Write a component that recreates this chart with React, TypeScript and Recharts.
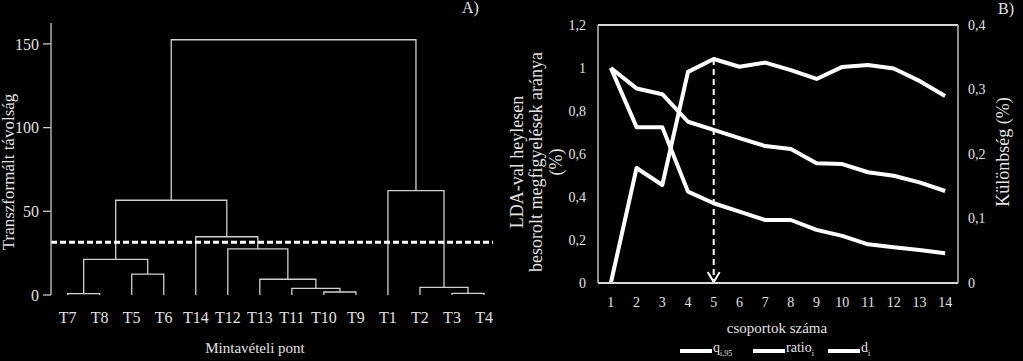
import React from 'react';
import { LineChart, Line, XAxis, YAxis, CartesianGrid, ReferenceLine, Label, Legend } from 'recharts';

const FONT = "'Liberation Serif', 'Times New Roman', serif";
const TXT = '#e2e2e2';

// ---------- Panel A: dendrogram ----------
const leafLabels = ['T7', 'T8', 'T5', 'T6', 'T14', 'T12', 'T13', 'T11', 'T10', 'T9', 'T1', 'T2', 'T3', 'T4'];
// merges: '#k' refers to the k-th merge
const mergeLeft = ['T7', 'T3', 'T10', 'T11', 'T2', 'T13', 'T5', '#0', 'T12', 'T14', '#7', 'T1', '#10'];
const mergeRight = ['T8', 'T4', 'T9', '#2', '#1', '#3', 'T6', '#6', '#5', '#8', '#9', '#4', '#11'];
const mergeHeight = [0.8, 1.0, 1.8, 4.0, 4.6, 9.4, 12.5, 21.3, 27.5, 34.8, 56.6, 62.3, 152.5];
const distanceTicks = [0, 50, 100, 150];
const cutHeight = 31.5;

// ---------- Panel B: line chart ----------
const groupCounts = [1, 2, 3, 4, 5, 6, 7, 8, 9, 10, 11, 12, 13, 14];
const qValues = [1, 0.905, 0.878, 0.75, 0.712, 0.674, 0.637, 0.623, 0.557, 0.553, 0.515, 0.499, 0.468, 0.428];
const ratioValues = [1, 0.725, 0.725, 0.425, 0.371, 0.332, 0.293, 0.293, 0.247, 0.219, 0.18, 0.166, 0.153, 0.138];
const dValues = [0, 0.535, 0.456, 0.982, 1.042, 1.006, 1.025, 0.99, 0.949, 1.005, 1.014, 0.998, 0.94, 0.87];
const leftTicks = [0, 0.2, 0.4, 0.6, 0.8, 1, 1.2];
const rightTicks = [0, 0.1, 0.2, 0.3, 0.4];
const seriesNames = ['q', 'ratio', 'd'];
const seriesSubs = ['i,95', 'i', 'i'];
const chosenGroups = 5;

type Node = { x: number; y: number };
function buildLinks() {
  const nodes: Node[] = [];
  const get = (k: string): Node =>
    k.startsWith('#') ? nodes[parseInt(k.slice(1), 10)] : { x: leafLabels.indexOf(k), y: 0 };
  const links: { x: number; y: number }[][] = [];
  mergeHeight.forEach((h, i) => {
    const a = get(mergeLeft[i]);
    const b = get(mergeRight[i]);
    links.push([
      { x: a.x, y: a.y },
      { x: a.x, y: h },
      { x: b.x, y: h },
      { x: b.x, y: b.y },
    ]);
    nodes.push({ x: (a.x + b.x) / 2, y: h });
  });
  return links;
}
const links = buildLinks();

const chartBData = groupCounts.map((n, i) => ({ n, q: qValues[i], ratio: ratioValues[i], d: dValues[i] }));

const fmtComma = (v: number) => String(Math.round(v * 10) / 10).replace('.', ',');

const LeafTick = (props: any) => {
  const { x, y, payload } = props;
  return (
    <text x={x} y={y + 22} textAnchor="middle" dominantBaseline="central" fill={TXT} fontSize={16} fontFamily={FONT}>
      {leafLabels[Math.round(payload.value)]}
    </text>
  );
};

const GroupTick = (props: any) => {
  const { x, y, payload } = props;
  return (
    <text x={x} y={y + 19} textAnchor="middle" dominantBaseline="central" fill={TXT} fontSize={14} fontFamily={FONT}>
      {payload.value}
    </text>
  );
};

const ArrowShape = (props: any) => {
  const { x1, y1, x2, y2 } = props;
  if (x1 == null) return null;
  const top = Math.min(y1, y2);
  const bottom = Math.max(y1, y2);
  const x = x1;
  return (
    <g>
      <line x1={x} y1={top} x2={x} y2={bottom - 1} stroke="#fff" strokeWidth={2} strokeDasharray="6 4" />
      <polyline
        points={`${x - 6},${bottom - 11} ${x},${bottom - 1} ${x + 6},${bottom - 11}`}
        fill="none"
        stroke="#fff"
        strokeWidth={2}
      />
    </g>
  );
};

const legendX = [180, 253, 328];
const LegendContent = () => (
  <div style={{ position: 'relative', height: 20, width: 523, fontFamily: FONT, color: TXT }}>
    {seriesNames.map((name, i) => (
      <div
        key={name}
        style={{ position: 'absolute', left: legendX[i], top: 0, height: 20, display: 'flex', alignItems: 'center' }}
      >
        <div style={{ width: 32, height: 4, background: '#fff' }} />
        <span style={{ fontSize: 14, marginLeft: 1, lineHeight: '20px' }}>
          {name}
          <sub style={{ fontSize: 8, verticalAlign: 'sub' }}>{seriesSubs[i]}</sub>
        </span>
      </div>
    ))}
  </div>
);

export default function App() {
  return (
    <div
      style={{
        position: 'absolute',
        left: 0,
        top: 0,
        width: 1023,
        height: 361,
        background: '#000',
        overflow: 'hidden',
        fontFamily: FONT,
      }}
    >
      {/* Panel A */}
      <div style={{ position: 'absolute', left: 0, top: 0 }}>
        <LineChart width={500} height={361} margin={{ top: 23, right: 7, left: 0, bottom: 0 }}>
          <XAxis
            type="number"
            dataKey="x"
            domain={[-0.52, 13.28]}
            allowDataOverflow
            ticks={leafLabels.map((_, i) => i)}
            interval={0}
            height={66}
            axisLine={false}
            tickLine={false}
            tickSize={0}
            tickMargin={0}
            tick={<LeafTick />}
          >
            <Label
              content={() => (
                <text x={255} y={348} textAnchor="middle" dominantBaseline="central" fill={TXT} fontSize={15} fontFamily={FONT}>
                  Mintavételi pont
                </text>
              )}
            />
          </XAxis>
          <YAxis
            type="number"
            domain={[0, 162.5]}
            allowDataOverflow
            ticks={distanceTicks}
            width={51}
            axisLine={{ stroke: '#c8c8c8', strokeWidth: 1.3 }}
            tickLine={{ stroke: '#c8c8c8', strokeWidth: 1.3 }}
            tickSize={8}
            tickMargin={4}
            tick={{ fill: TXT, fontSize: 16, fontFamily: FONT }}
          >
            <Label
              content={() => (
                <text
                  x={8}
                  y={172}
                  transform="rotate(-90, 8, 172)"
                  textAnchor="middle"
                  dominantBaseline="central"
                  fill={TXT}
                  fontSize={17}
                  fontFamily={FONT}
                >
                  Transzformált távolság
                </text>
              )}
            />
          </YAxis>
          {links.map((pts, i) => (
            <Line
              key={i}
              data={pts}
              dataKey="y"
              type="linear"
              stroke="#d0d0d0"
              strokeWidth={1.3}
              dot={false}
              activeDot={false}
              isAnimationActive={false}
              legendType="none"
            />
          ))}
          <ReferenceLine y={cutHeight} stroke="#fff" strokeWidth={3} strokeDasharray="6 3" />
        </LineChart>
      </div>

      {/* Panel B */}
      <div style={{ position: 'absolute', left: 500, top: 0 }}>
        <LineChart width={523} height={361} data={chartBData} margin={{ top: 25, right: 0, left: 0, bottom: 0 }}>
          <CartesianGrid horizontal vertical={false} stroke="#d8d8d8" strokeWidth={2} />
          <XAxis
            type="number"
            dataKey="n"
            domain={[0.5, 14.5]}
            allowDataOverflow
            ticks={groupCounts}
            interval={0}
            height={58}
            axisLine={{ stroke: '#d8d8d8', strokeWidth: 2 }}
            tickLine={false}
            tickSize={0}
            tickMargin={0}
            tick={<GroupTick />}
          >
            <Label
              content={() => (
                <text x={277} y={328} textAnchor="middle" dominantBaseline="central" fill={TXT} fontSize={15} fontFamily={FONT}>
                  csoportok száma
                </text>
              )}
            />
          </XAxis>
          <YAxis
            yAxisId="left"
            type="number"
            domain={[0, 1.2]}
            allowDataOverflow
            ticks={leftTicks}
            width={98}
            axisLine={{ stroke: '#bdbdbd', strokeWidth: 1.5 }}
            tickLine={false}
            tickSize={0}
            tickMargin={12}
            tickFormatter={fmtComma}
            tick={{ fill: TXT, fontSize: 14, fontFamily: FONT }}
          >
            <Label
              content={() => (
                <g fill={TXT} fontSize={18} fontFamily={FONT}>
                  <text x={17} y={162} transform="rotate(-90, 17, 162)" textAnchor="middle" dominantBaseline="central">
                    LDA-val heylesen
                  </text>
                  <text x={36} y={162} transform="rotate(-90, 36, 162)" textAnchor="middle" dominantBaseline="central">
                    besorolt megfigyelések aránya
                  </text>
                  <text x={56} y={162} transform="rotate(-90, 56, 162)" textAnchor="middle" dominantBaseline="central">
                    (%)
                  </text>
                </g>
              )}
            />
          </YAxis>
          <YAxis
            yAxisId="right"
            orientation="right"
            type="number"
            domain={[0, 0.4]}
            allowDataOverflow
            ticks={rightTicks}
            width={65}
            axisLine={{ stroke: '#bdbdbd', strokeWidth: 1.5 }}
            tickLine={false}
            tickSize={0}
            tickMargin={10}
            tickFormatter={fmtComma}
            tick={{ fill: TXT, fontSize: 14, fontFamily: FONT }}
          >
            <Label
              content={() => (
                <text
                  x={503}
                  y={152}
                  transform="rotate(-90, 503, 152)"
                  textAnchor="middle"
                  dominantBaseline="central"
                  fill={TXT}
                  fontSize={18}
                  fontFamily={FONT}
                >
                  Különbség (%)
                </text>
              )}
            />
          </YAxis>
          <Legend verticalAlign="bottom" height={20} content={<LegendContent />} />
          <Line yAxisId="left" dataKey="q" name="q" type="linear" stroke="#fff" strokeWidth={4} dot={false} strokeLinejoin="round" isAnimationActive={false} />
          <Line yAxisId="left" dataKey="ratio" name="ratio" type="linear" stroke="#fff" strokeWidth={4} dot={false} strokeLinejoin="round" isAnimationActive={false} />
          <Line yAxisId="left" dataKey="d" name="d" type="linear" stroke="#fff" strokeWidth={4} dot={false} strokeLinejoin="round" isAnimationActive={false} />
          <ReferenceLine
            yAxisId="left"
            segment={[
              { x: chosenGroups, y: dValues[chosenGroups - 1] },
              { x: chosenGroups, y: 0 },
            ]}
            shape={<ArrowShape />}
          />
        </LineChart>
      </div>

      <div style={{ position: 'absolute', left: 462, top: -1, color: TXT, fontSize: 16, fontFamily: FONT }}>A)</div>
      <div style={{ position: 'absolute', left: 998, top: 0, color: TXT, fontSize: 16, lineHeight: '18px', whiteSpace: 'nowrap', fontFamily: FONT }}>B)</div>
    </div>
  );
}
